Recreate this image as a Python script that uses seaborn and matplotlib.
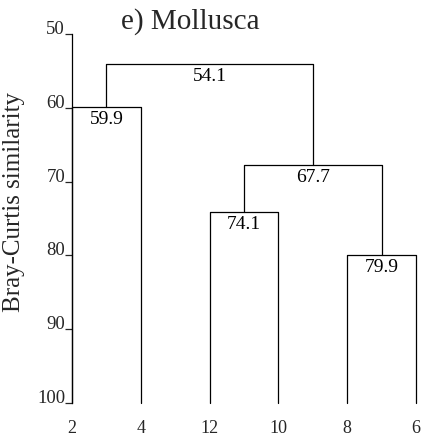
import numpy as np
import pandas as pd
import matplotlib
matplotlib.use("Agg")
import matplotlib.pyplot as plt
import seaborn as sns

# ---- data ----
leaf_labels = ["2", "4", "12", "10", "8", "6"]
# merges: node ids (0..5 are leaves, 6.. are created in order)
merge_a = [0, 2, 4, 7, 6]
merge_b = [1, 3, 5, 8, 9]
merge_sim = [59.9, 74.1, 79.9, 67.7, 54.1]
y_ticks = [50, 60, 70, 80, 90, 100]
base_sim = 100.0

sns.set_style("white")
plt.rcParams["font.family"] = ["Liberation Serif", "DejaVu Serif"]

# build segments from the linkage
pos = {i: float(i) for i in range(len(leaf_labels))}
hgt = {i: base_sim for i in range(len(leaf_labels))}
rows = []
labels = []
for k, (a, b, h) in enumerate(zip(merge_a, merge_b, merge_sim)):
    node = len(leaf_labels) + k
    xa, xb = pos[a], pos[b]
    pts = [(xa, hgt[a]), (xa, h), (xb, h), (xb, hgt[b])]
    for j, (x, y) in enumerate(pts):
        rows.append({"seg": k, "order": j, "x": x, "y": y})
    pos[node] = (xa + xb) / 2
    hgt[node] = h
    labels.append(((xa + xb) / 2, h, f"{h:.1f}"))
df = pd.DataFrame(rows)

fig = plt.figure(figsize=(4.21, 4.38), dpi=100)
ax = fig.add_axes([72 / 421, 1 - 403 / 438, (416 - 72) / 421, (403 - 34) / 438])

sns.lineplot(data=df, x="x", y="y", units="seg", estimator=None, sort=False,
             color="black", linewidth=0.9, ax=ax, legend=False)
for ln in ax.lines:
    ln.set_clip_on(False)

for x, h, t in labels:
    ax.annotate(t, (x, h), xytext=(0, -3), textcoords="offset points",
                ha="center", va="top", fontsize=14, color="black")

ax.set_xlim(0, len(leaf_labels) - 1)
ax.set_ylim(100, 50)
ax.set_yticks(y_ticks)
ax.set_yticklabels([str(v) for v in y_ticks], fontsize=13.5, va="baseline")
ax.set_xticks(range(len(leaf_labels)))
ax.set_xticklabels(leaf_labels, fontsize=13)
ax.tick_params(axis="y", direction="out", length=5, width=0.9, pad=0, left=True)
ax.tick_params(axis="x", length=0, pad=12)
ax.set_xlabel("")
ax.set_ylabel("")
for s in ["top", "right", "bottom"]:
    ax.spines[s].set_visible(False)
ax.spines["left"].set_color("black")
ax.spines["left"].set_linewidth(0.9)

fig.text(14 / 421, 1 - 202 / 438, "Bray-Curtis similarity", rotation=90,
         ha="center", va="center", fontsize=18)
fig.text(190 / 421, 1 - 22 / 438, "e) Mollusca", ha="center", va="center",
         fontsize=21)

fig.savefig("out.png", dpi=100, facecolor="white")
